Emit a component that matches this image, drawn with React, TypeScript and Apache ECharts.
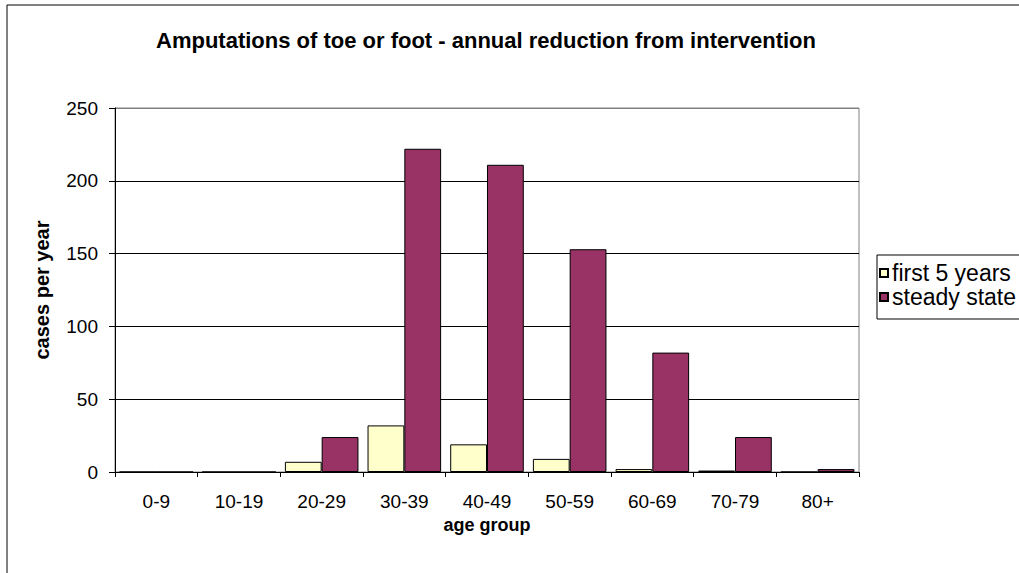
import React, { useEffect, useRef } from "react";
import * as echarts from "echarts";

const ageGroups = ["0-9", "10-19", "20-29", "30-39", "40-49", "50-59", "60-69", "70-79", "80+"];
const firstFiveYears = [0, 0, 7, 32, 19, 9, 2, 1, 0];
const steadyState = [0, 0, 24, 222, 211, 153, 82, 24, 2];
const yTicks = [0, 50, 100, 150, 200, 250];

const FONT = "'Liberation Sans', Arial, sans-serif";

export default function App() {
  const ref = useRef<HTMLDivElement>(null);

  useEffect(() => {
    if (!ref.current) return;
    const chart = echarts.init(ref.current, undefined, { renderer: "svg" });
    chart.setOption({
      animation: false,
      backgroundColor: "#ffffff",
      textStyle: { fontFamily: FONT },
      title: {
        text: "Amputations of toe or foot - annual reduction from intervention",
        left: 481,
        top: 24,
        textAlign: "center",
        textStyle: { fontFamily: FONT, fontSize: 22, fontWeight: "bold", color: "#000" },
      },
      grid: { left: 115, right: 160, top: 108, bottom: 101, show: true, borderColor: "#808080", borderWidth: 1 },
      legend: {
        orient: "vertical",
        left: 874,
        top: 256,
        itemWidth: 8,
        itemHeight: 8,
        itemGap: 0,
        icon: "rect",
        textStyle: { fontFamily: FONT, fontSize: 23, lineHeight: 24, color: "#000", padding: [0, 0, 0, -1] },
        data: ["first 5 years", "steady state"],
      },
      xAxis: {
        type: "category",
        data: ageGroups,
        name: "age group",
        nameLocation: "middle",
        nameGap: 32,
        nameTextStyle: { fontFamily: FONT, fontSize: 18, fontWeight: "bold", color: "#000" },
        axisLine: { lineStyle: { color: "#000", width: 1 } },
        axisTick: { show: true, alignWithLabel: false, length: 5, lineStyle: { color: "#000" } },
        axisLabel: { fontFamily: FONT, fontSize: 19, color: "#000", margin: 20 },
        splitLine: { show: false },
      },
      yAxis: {
        type: "value",
        min: 0,
        max: 250,
        interval: 50,
        name: "cases per year",
        nameLocation: "middle",
        nameGap: 63,
        nameTextStyle: { fontFamily: FONT, fontSize: 20, fontWeight: "bold", color: "#000" },
        axisLine: { show: true, lineStyle: { color: "#000", width: 1 } },
        axisTick: { show: true, length: 6, lineStyle: { color: "#000" } },
        axisLabel: {
          fontFamily: FONT,
          fontSize: 19,
          color: "#000",
          margin: 17,
          formatter: (v: number) => (yTicks.includes(v) ? String(v) : ""),
        },
        splitLine: {
          show: true,
          lineStyle: { color: ["#000", "#000", "#000", "#000", "#000", "#808080"], width: 1 },
        },
      },
      series: [
        {
          name: "first 5 years",
          type: "bar",
          data: firstFiveYears,
          barGap: "0%",
          barCategoryGap: "11%",
          itemStyle: { color: "#FFFFCC", borderColor: "#000", borderWidth: 1 },
        },
        {
          name: "steady state",
          type: "bar",
          data: steadyState,
          barGap: "0%",
          barCategoryGap: "11%",
          itemStyle: { color: "#993366", borderColor: "#000", borderWidth: 1 },
        },
      ],
      graphic: [
        {
          type: "rect",
          z: -1,
          shape: { x: 7, y: 5, width: 1100, height: 700 },
          style: { fill: "none", stroke: "#000", lineWidth: 1 },
        },
        {
          type: "rect",
          shape: { x: 877, y: 255, width: 200, height: 64 },
          style: { fill: "none", stroke: "#000", lineWidth: 1 },
        },
      ],
    });
    return () => chart.dispose();
  }, []);

  return (
    <div
      ref={ref}
      style={{ position: "fixed", left: 0, top: 0, width: 1019, height: 573, background: "#fff" }}
    />
  );
}
